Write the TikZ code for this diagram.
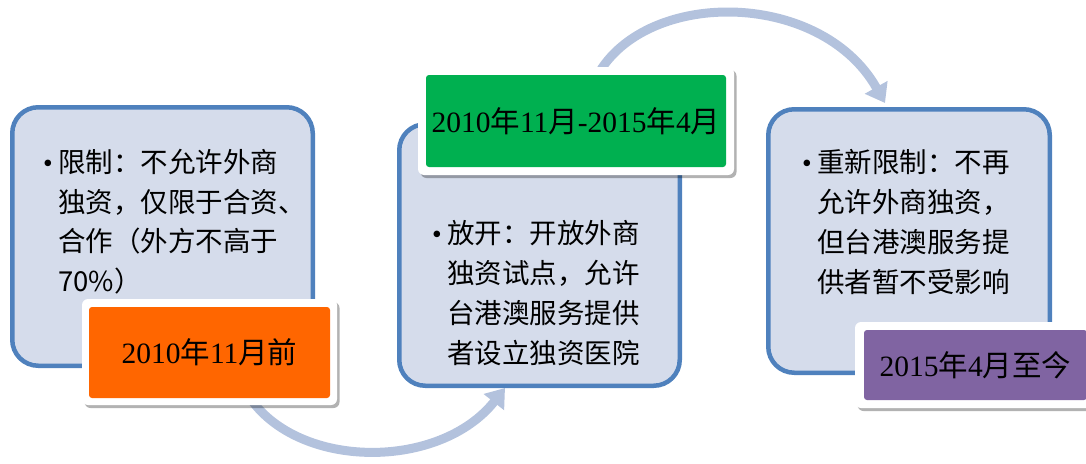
\documentclass[tikz,border=0pt]{standalone}
\usepackage{fontspec}
\setmainfont{Liberation Serif}
\newfontfamily\cjk{Noto Sans CJK SC}
\usetikzlibrary{arrows.meta,shadows}
\definecolor{boxfill}{RGB}{213,220,235}
\definecolor{boxline}{RGB}{79,129,189}
\definecolor{arrowc}{RGB}{179,194,221}
\definecolor{orangec}{RGB}{255,102,0}
\definecolor{greenc}{RGB}{0,176,80}
\definecolor{purplec}{RGB}{128,100,162}
\newcommand\bul{\makebox[15pt][l]{\rmfamily •}}
\newcommand\ind{\hspace*{15pt}}
\begin{document}
\begin{tikzpicture}[x=1pt,y=1pt,
  panel/.style={draw=boxline, fill=boxfill, line width=4.5pt, rounded corners=26pt, inner sep=0pt},
  tagouter/.style={fill=white, rounded corners=6pt, inner sep=0pt,
     drop shadow={shadow xshift=2.5pt, shadow yshift=-3pt, opacity=0.3, fill=black}},
  taginner/.style={rounded corners=3pt, inner sep=0pt, font=\fontsize{29.5}{34}\selectfont},
  bodytext/.style={anchor=base west, inner sep=0pt, font=\cjk\fontsize{27.5}{40}\selectfont},
  arrowline/.style={draw=arrowc, line width=9pt, -{Triangle[length=18pt,width=25pt]}}]
\useasboundingbox (0,0) rectangle (1086,-463);

% connectors (under boxes)
\coordinate (a1s) at (250,-398);
\coordinate (a1e) at (505,-388);
\coordinate (a2s) at (595,-80);
\coordinate (a2e) at (885,-103);
\draw[arrowline] (a1s) .. controls (300,-470) and (440,-470) .. (a1e);
\draw[arrowline] (a2s) .. controls (640,12) and (820,12) .. (a2e);

% panels
\node[panel, minimum width=300.5pt, minimum height=258.5pt] (p1) at (162.5,-236.5) {};
\node[panel, minimum width=280.5pt, minimum height=261.5pt] (p2) at (539.5,-255) {};
\node[panel, minimum width=281.5pt, minimum height=263.5pt] (p3) at (909,-241) {};

% panel texts
\node[bodytext] (t1) at (43,-172.5) {\vtop{\baselineskip=39.5pt
  \hbox{\bul 限制：不允许外商}
  \hbox{\ind 独资，仅限于合资、}
  \hbox{\ind 合作（外方不高于}
  \hbox{\ind 70\%）}}};
\node[bodytext] (t2) at (432,-243.5) {\vtop{\baselineskip=40pt
  \hbox{\bul 放开：开放外商}
  \hbox{\ind 独资试点，允许}
  \hbox{\ind 台港澳服务提供}
  \hbox{\ind 者设立独资医院}}};
\node[bodytext] (t3) at (802,-172.5) {\vtop{\baselineskip=40pt
  \hbox{\bul 重新限制：不再}
  \hbox{\ind 允许外商独资，}
  \hbox{\ind 但台港澳服务提}
  \hbox{\ind 供者暂不受影响}}};

% date tags
\node[tagouter, minimum width=255pt, minimum height=106pt] (o1) at (209.5,-352) {};
\node[taginner, fill=orangec, minimum width=241pt, minimum height=91pt] (l1) at (209.5,-352.5)
  {2010{\cjk 年}11{\cjk 月前}};
\node[tagouter, minimum width=316pt, minimum height=108pt] (o2) at (576,-121) {};
\node[taginner, fill=greenc, minimum width=300pt, minimum height=92pt] (l2) at (576,-121)
  {2010{\cjk 年}11{\cjk 月}-2015{\cjk 年}4{\cjk 月}};
\node[tagouter, minimum width=241pt, minimum height=86pt] (o3) at (975.5,-365) {};
\node[taginner, fill=purplec, minimum width=223pt, minimum height=70pt] (l3) at (975.5,-365)
  {2015{\cjk 年}4{\cjk 月至今}};
\end{tikzpicture}
\end{document}
